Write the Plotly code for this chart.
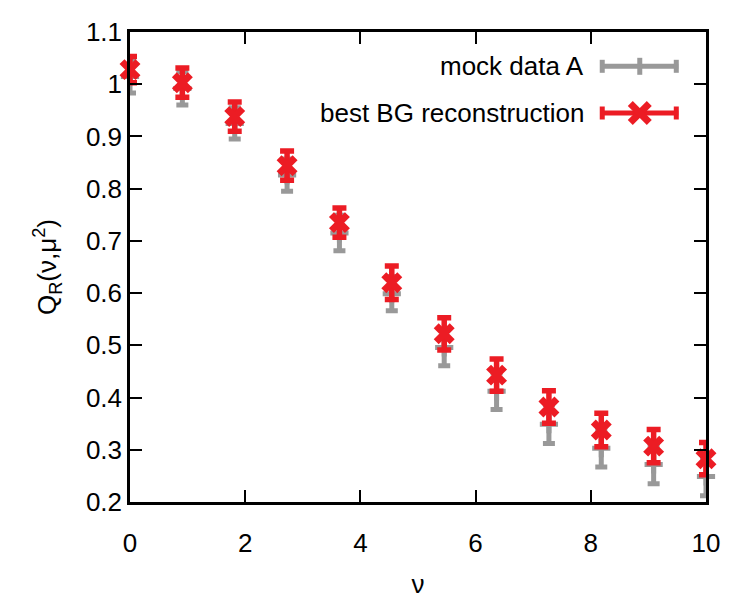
import plotly.graph_objects as go

# ---- data ----
nu = [0.0, 0.909, 1.818, 2.727, 3.636, 4.545, 5.455, 6.364, 7.273, 8.182, 9.091, 10.0]
mock_q = [1.015, 0.992, 0.925, 0.826, 0.715, 0.599, 0.496, 0.412, 0.349, 0.303, 0.272, 0.249]
mock_err = [0.032, 0.032, 0.030, 0.031, 0.034, 0.033, 0.035, 0.035, 0.037, 0.036, 0.037, 0.037]
bg_q = [1.028, 1.003, 0.938, 0.844, 0.735, 0.620, 0.522, 0.443, 0.382, 0.338, 0.307, 0.283]
bg_err = [0.025, 0.028, 0.028, 0.028, 0.028, 0.032, 0.031, 0.031, 0.031, 0.032, 0.032, 0.031]
series_names = ["mock data A", "best BG reconstruction"]
x_ticks = [0, 2, 4, 6, 8, 10]
y_ticks = [0.2, 0.3, 0.4, 0.5, 0.6, 0.7, 0.8, 0.9, 1.0, 1.1]

GRAY = "#999999"
RED = "#ec1c24"
FONT = "Liberation Sans, Arial, sans-serif"
FS = 26

fig = go.Figure()
fig.add_trace(go.Scatter(
    x=nu, y=mock_q, mode="markers", name=series_names[0], cliponaxis=False,
    marker=dict(symbol="cross-thin", size=13, color=GRAY, line=dict(color=GRAY, width=5)),
    error_y=dict(type="data", array=mock_err, visible=True, color=GRAY, thickness=5, width=6),
))
fig.add_trace(go.Scatter(
    x=nu, y=bg_q, mode="markers", name=series_names[1], cliponaxis=False,
    marker=dict(symbol="x-thin", size=16, color=RED, line=dict(color=RED, width=7)),
    error_y=dict(type="data", array=bg_err, visible=True, color=RED, thickness=5.5, width=7),
))

# ---- custom legend (text left of sample, as in the reference) ----
L, R, T, B = 130, 705.7, 31.7, 501.7
def px(xp):
    return (xp - L) / (R - L)
def py(yp):
    return (B - yp) / (B - T)

shapes = []
annotations = []
legend_rows = [(66, GRAY, "plus"), (112.7, RED, "x")]
for (ypix, col, kind), name in zip(legend_rows, series_names):
    yv = py(ypix)
    x0, x1, xc = px(600), px(678), px(639.5)
    lw = 5
    shapes.append(dict(type="line", xref="paper", yref="paper", x0=x0, x1=x1, y0=yv, y1=yv,
                       line=dict(color=col, width=lw)))
    for xe in (px(602), px(676)):
        shapes.append(dict(type="line", xref="paper", yref="paper", x0=xe, x1=xe,
                           y0=py(ypix + 6.5), y1=py(ypix - 6.5), line=dict(color=col, width=lw)))
    if kind == "plus":
        shapes.append(dict(type="line", xref="paper", yref="paper", x0=xc, x1=xc,
                           y0=py(ypix + 8.5), y1=py(ypix - 8.5), line=dict(color=col, width=lw)))
    else:
        d = 9.5
        shapes.append(dict(type="line", xref="paper", yref="paper", x0=px(639.5 - d), x1=px(639.5 + d),
                           y0=py(ypix + d), y1=py(ypix - d), line=dict(color=col, width=7)))
        shapes.append(dict(type="line", xref="paper", yref="paper", x0=px(639.5 - d), x1=px(639.5 + d),
                           y0=py(ypix - d), y1=py(ypix + d), line=dict(color=col, width=7)))
    annotations.append(dict(text=name, xref="paper", yref="paper", x=px(586), y=yv,
                            xanchor="right", yanchor="middle", showarrow=False,
                            font=dict(family=FONT, size=FS, color="black")))

fig.update_layout(
    width=750, height=600,
    margin=dict(l=L, r=750 - R, t=T, b=600 - B),
    paper_bgcolor="white", plot_bgcolor="white",
    showlegend=False,
    font=dict(family=FONT, size=FS, color="black"),
    shapes=shapes, annotations=annotations,
    xaxis=dict(range=[0, 10], tickvals=x_ticks, ticktext=[str(v) for v in x_ticks],
               ticks="inside", ticklen=12, tickwidth=2, tickcolor="black",
               ticklabelstandoff=16, automargin=False,
               showline=True, linewidth=2.5, linecolor="black", mirror="ticks",
               showgrid=False, zeroline=False,
               title=dict(text="ν", standoff=18, font=dict(size=FS))),
    yaxis=dict(range=[0.2, 1.1], tickvals=y_ticks, ticktext=[f"{v:g}" for v in y_ticks],
               ticks="inside", ticklen=12, tickwidth=2, tickcolor="black",
               automargin=False,
               showline=True, linewidth=2.5, linecolor="black", mirror="ticks",
               showgrid=False, zeroline=False,
               title=dict(text="Q<sub>R</sub>(ν,μ<sup>2</sup>)", standoff=22, font=dict(size=FS))),
)

fig.write_html("out.html")
